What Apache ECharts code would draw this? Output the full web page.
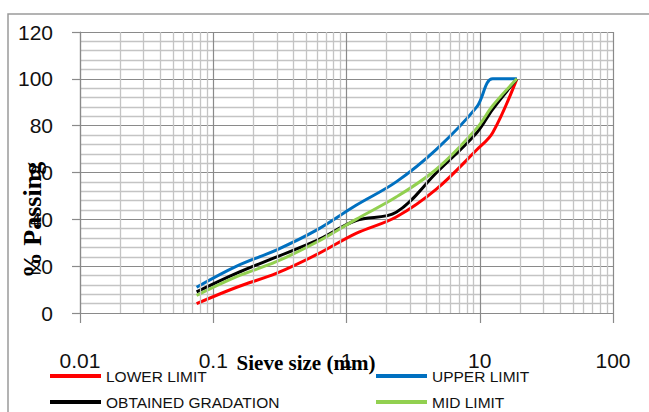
<!DOCTYPE html>
<html>
<head>
<meta charset="utf-8">
<script src="https://cdn.jsdelivr.net/npm/echarts@6/dist/echarts.min.js"></script>
<style>
  html, body { margin: 0; padding: 0; background: #fff; }
  #chart { width: 649px; height: 412px; }
</style>
</head>
<body>
<div id="chart"></div>
<script>
// Sieve sizes (mm) and percent passing for each gradation curve
const sieveSizes = [0.075, 0.15, 0.3, 0.6, 1.18, 2.36, 4.75, 9.5, 12.5, 19];
const lowerLimit = [4, 11, 17, 25, 34, 41, 53, 69.7, 77, 100];
const upperLimit = [11, 20, 27, 35.5, 46, 56, 70, 88, 100, 100];
const obtainedGradation = [9, 17, 24, 31, 39.5, 43, 60, 77, 87, 100];
const midLimit = [7.5, 15.5, 22, 30.3, 40, 49.5, 61.5, 78.9, 88.5, 100];

const xTickLabels = ['0.01', '0.1', '1', '10', '100'];
const yTicks = [0, 20, 40, 60, 80, 100, 120];
// intermediate log gridlines (2..9 within each decade)
const minorDecades = [0.01, 0.1, 1, 10];
const minorSteps = [2, 3, 4, 5, 6, 7, 8, 9];

const seriesNames = ['LOWER LIMIT', 'UPPER LIMIT', 'OBTAINED GRADATION', 'MID LIMIT'];
const seriesColors = ['#ff0000', '#0070c0', '#000000', '#92d050'];
const seriesValues = [lowerLimit, upperLimit, obtainedGradation, midLimit];

const minorX = [];
minorDecades.forEach(d => minorSteps.forEach(s => minorX.push({ xAxis: +(d * s).toPrecision(3) })));

const chart = echarts.init(document.getElementById('chart'), null, { renderer: 'svg' });

const lineSeries = seriesNames.map((name, i) => ({
  name: name,
  type: 'line',
  data: sieveSizes.map((s, j) => [s, seriesValues[i][j]]),
  smooth: 0.35,
  symbol: 'none',
  z: 3,
  lineStyle: { color: seriesColors[i], width: 3 },
  itemStyle: { color: seriesColors[i] }
}));

// one legend entry per slot: two columns, two rows
const legendSlots = [[48, 366], [374, 366], [48, 392], [374, 392]];
const legends = seriesNames.map((name, i) => ({
  data: [name],
  left: legendSlots[i][0], top: legendSlots[i][1],
  itemWidth: 51, itemHeight: 4,
  icon: 'rect',
  selectedMode: false,
  padding: [2, 2, 2, 2],
  textStyle: { fontFamily: 'Liberation Sans, Arial, sans-serif', fontSize: 15.5, color: '#111' }
}));

const option = {
  animation: false,
  grid: { left: 80, top: 32, right: 36, bottom: 99, containLabel: false },
  xAxis: {
    type: 'log',
    logBase: 10,
    min: 0.01,
    max: 100,
    axisLine: { show: true, lineStyle: { color: '#8a8a8a', width: 1.2 } },
    axisTick: { show: true, length: 10, lineStyle: { color: '#8a8a8a', width: 1.2 } },
    axisLabel: {
      margin: 37,
      fontFamily: 'Liberation Sans, Arial, sans-serif',
      fontSize: 21,
      color: '#111',
      formatter: (v, idx) => xTickLabels[idx]
    },
    splitLine: { show: true, lineStyle: { color: '#8a8a8a', width: 1.2 } }
  },
  yAxis: {
    type: 'value',
    min: yTicks[0],
    max: yTicks[yTicks.length - 1],
    interval: 20,
    axisLine: { show: true, lineStyle: { color: '#8a8a8a', width: 1.2 } },
    axisTick: { show: true, length: 8, lineStyle: { color: '#8a8a8a', width: 1.2 } },
    axisLabel: {
      margin: 27,
      fontFamily: 'Liberation Sans, Arial, sans-serif',
      fontSize: 21,
      color: '#111'
    },
    splitLine: { show: true, lineStyle: { color: '#8a8a8a', width: 1.2 } },
    minorTick: { show: false, splitNumber: 5 },
    minorSplitLine: { show: true, lineStyle: { color: '#c4c4c4', width: 1.3 } }
  },
  legend: legends,
  graphic: [
    {
      type: 'rect', z: -10, silent: true,
      shape: { x: 8, y: 14, width: 700, height: 500 },
      style: { fill: 'none', stroke: '#9a9a9a', lineWidth: 1.5 }
    },
    {
      type: 'text', z: 100, silent: true,
      x: 306, y: 363,
      style: {
        text: 'Sieve size (mm)',
        font: 'bold 21px "Liberation Serif", "Times New Roman", serif',
        fill: '#000', align: 'center', verticalAlign: 'middle'
      }
    },
    {
      type: 'text', z: 100, silent: true,
      x: 32, y: 220, rotation: Math.PI / 2,
      style: {
        text: '% Passing',
        font: 'bold 26px "Liberation Serif", "Times New Roman", serif',
        fill: '#000', align: 'center', verticalAlign: 'middle'
      }
    }
  ],
  series: [
    {
      name: 'minor-grid',
      type: 'line',
      data: [],
      z: -1,
      silent: true,
      markLine: {
        silent: true,
        symbol: ['none', 'none'],
        label: { show: false },
        lineStyle: { color: '#c4c4c4', width: 1.3, type: 'solid' },
        data: minorX
      }
    }
  ].concat(lineSeries)
};

chart.setOption(option);
</script>
</body>
</html>
